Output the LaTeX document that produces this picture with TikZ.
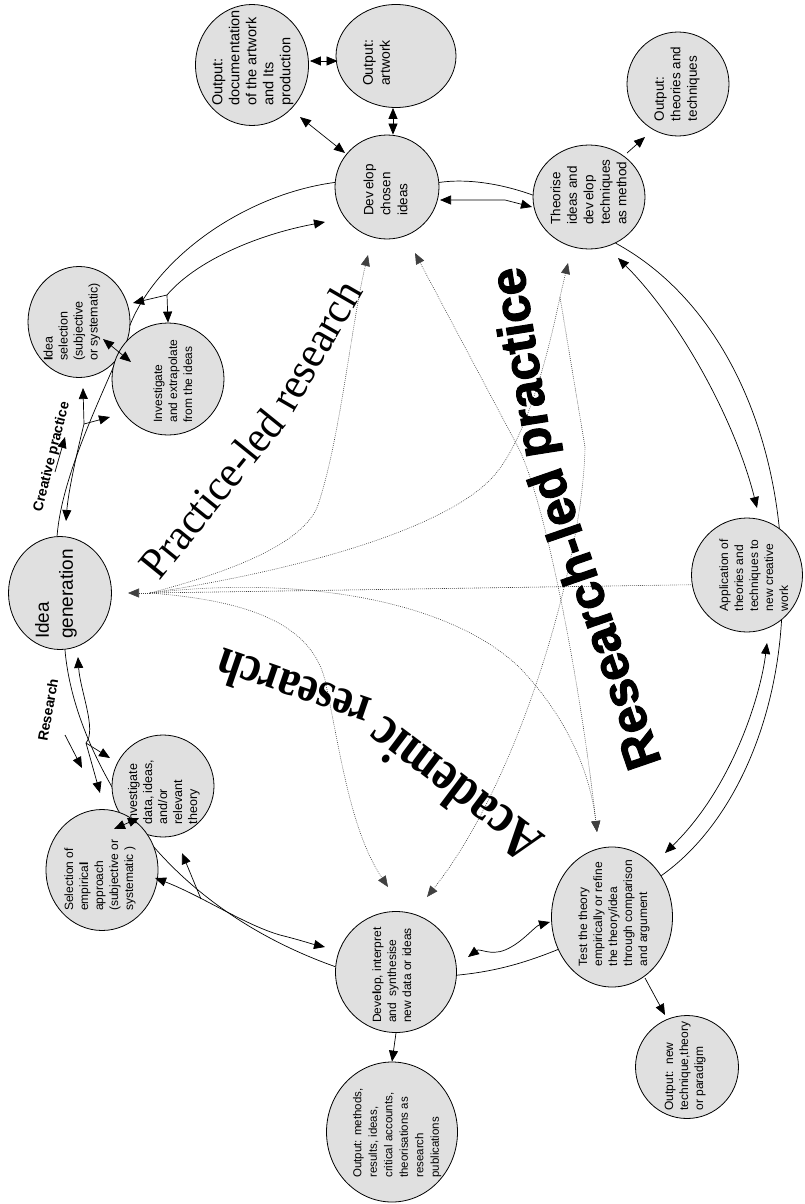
\documentclass[tikz,border=0pt]{standalone}
\usepackage{fontspec}
\setmainfont{Liberation Sans}
\newfontfamily\bigserif{Liberation Serif}
\newfontfamily\heavysans{Liberation Sans}[FakeBold=2]
\usetikzlibrary{shapes.geometric,arrows.meta,calc}
\definecolor{cfill}{RGB}{224,224,224}
\pgfdeclarelayer{bg}
\pgfsetlayers{bg,main}
\newcommand{\fsz}[2]{\fontsize{#1}{#2}\selectfont}
\newcommand{\vlines}[1]{\begin{tabular}{@{}l@{}}#1\end{tabular}}
\begin{document}
\begin{tikzpicture}[x=1pt,y=-1pt,
  circ/.style={ellipse, draw=black, line width=0.8pt, fill=cfill, inner sep=0pt},
  lbl/.style={rotate=90, inner sep=0pt},
  ln/.style={line width=0.7pt},
  Tri/.tip={Triangle[length=11pt,width=9pt]},
  arr/.style={ln, -Tri},
  darr/.style={ln, Tri-Tri},
  dots/.style={line width=0.6pt, draw=black!75, dash pattern=on 0.8pt off 1.2pt},
  bigtxt/.style={inner sep=0pt},
]
\useasboundingbox (0,0) rectangle (804,1204);

% ---------- circles ----------
\node[circ, minimum width=113pt, minimum height=121pt] (doc) at (252,65) {};
\node[circ, minimum width=120pt, minimum height=103pt] (art) at (396,56) {};
\node[circ, minimum width=104pt, minimum height=104pt] (dci) at (387,187) {};
\node[circ, minimum width=112pt, minimum height=104pt] (thr) at (589,197) {};
\node[circ, minimum width=102pt, minimum height=104pt] (oth) at (678,84) {};
\node[circ, minimum width=102pt, minimum height=111pt] (isel) at (79,322) {};
\node[circ, minimum width=112pt, minimum height=112pt] (inv1) at (168,379) {};
\node[circ, minimum width=103pt, minimum height=113pt] (igen) at (60,593) {};
\node[circ, minimum width=102pt, minimum height=102pt] (inv2) at (163,786) {};
\node[circ, minimum width=112pt, minimum height=121pt] (sel) at (102,870) {};
\node[circ, minimum width=121pt, minimum height=121pt] (dev2) at (396,972) {};
\node[circ, minimum width=131pt, minimum height=140pt] (omet) at (392,1132) {};
\node[circ, minimum width=121pt, minimum height=140pt] (test) at (612,917) {};
\node[circ, minimum width=103pt, minimum height=103pt] (onew) at (687,1067) {};
\node[circ, minimum width=111pt, minimum height=114pt] (app) at (747,575) {};

% ---------- circle texts ----------
\node[lbl, font=\fsz{14.5}{17}] (doct) at ($(doc)+(1,-7)$) {\vlines{Output:\\documentation\\of the artwork\\and Its\\production}};
\node[lbl, font=\fsz{14}{17}] (artt) at ($(art)+(-18,7)$) {\vlines{Output:\\artwork}};
\node[lbl, font=\fsz{13.5}{17}] (dcit) at ($(dci)+(0,3)$) {\vlines{Dev\kern2pt elop\\chosen\\ideas}};
\node[lbl, font=\fsz{13.5}{16.5}] (thrt) at ($(thr)+(1,-5)$) {\vlines{Theorise\\ideas and\\dev\kern2pt elop\\techniques\\as method}};
\node[lbl, font=\fsz{13.5}{16.5}] (otht) at ($(oth)+(-1,0)$) {\vlines{Output:\\theories and\\techniques}};
\node[lbl, font=\fsz{12.5}{15}] (iselt) at ($(isel)+(-7,0)$) {\vlines{\textbf{I}dea\\selection\\(subjective\\or systematic)}};
\node[lbl, font=\fsz{12}{15}] (inv1t) at ($(inv1)+(6,2)$) {\vlines{Investigate\\and extrapolate\\from the ideas}};
\node[lbl, font=\fsz{19}{24}] (igent) at ($(igen)+(-4,1)$) {\vlines{Idea\\generation}};
\node[lbl, font=\fsz{12.5}{15}] (inv2t) at ($(inv2)+(1,6)$) {\vlines{\textbf{I}nvestigate\\data, ideas,\\and/or\\relevant\\theory}};
\node[lbl, font=\fsz{12}{15}] (selt) at ($(sel)+(-2,5)$) {\vlines{Selection of\\empirica\textbf{l}\\approach\\(subjective or\\systematic )}};
\node[lbl, font=\fsz{12}{15}] (dev2t) at ($(dev2)+(-3,3)$) {\vlines{Deve\textbf{l}op, interpret\\and\ \ synthesise\\new data or ideas}};
\node[lbl, font=\fsz{11.5}{15.5}] (omett) at ($(omet)+(5,1)$) {\vlines{Output: methods,\\results, ideas,\\critical accounts,\\theorisations as\\research\\publications}};
\node[lbl, font=\fsz{12}{15}] (testt) at ($(test)+(2,-4)$) {\vlines{Test the theory\\empirically or refine\\the theory/idea\\through comparison\\and argument}};
\node[lbl, font=\fsz{12}{15}] (onewt) at ($(onew)+(-2,-1)$) {\vlines{Output:\ \ new\\technique,theory\\or paradigm}};
\node[lbl, font=\fsz{12}{15}] (appt) at ($(app)+(8,0)$) {\vlines{Application of\\theories and\\techniques to\\new creative\\work}};

% ---------- helper coordinates ----------
\coordinate (j0) at (167,295);
\coordinate (j1) at (84,424);
\coordinate (j2) at (201,899);
\coordinate (j3) at (86,743);
\coordinate (fan) at (150,593);
\coordinate (k4) at (560,297);
\coordinate (k6) at (518,447);
\coordinate (ca1) at (55,472);
\coordinate (ca2) at (65,437);
\coordinate (ra1) at (65,735);
\coordinate (ra2) at (82,768);

\begin{pgfonlayer}{bg}
% ring
\draw[ln] (igen.93) .. controls (62,475) and (100,400) .. (125,340) .. controls (145,265) and (240,195) .. (dci.175);
\draw[ln] (dci.5) .. controls (470,178) and (505,185) .. (thr.178);
\draw[ln] (thr.-60) .. controls (720,300) and (780,430) .. (782,575) .. controls (787,700) and (740,820) .. (test.40);
\draw[ln] (test.211) .. controls (520,965) and (490,972) .. (dev2.-3);
\draw[ln] (dev2.175) .. controls (260,940) and (190,895) .. (140,830) .. controls (100,775) and (70,710) .. (igen.-85);

% dotted links
\draw[dots, -Tri] (fan) -- ($(igen)+(68,0)$);
\draw[dots, -Tri] (fan) .. controls (245,568) and (305,540) .. (318,505) .. controls (340,440) and (352,320) .. ($(dci)+(-19,68)$);
\draw[dots, -Tri] (fan) .. controls (300,570) and (440,530) .. (490,480) .. controls (530,440) and (553,330) .. (k4) -- ($(thr)+(-21,66)$);
\draw[dots] (fan) -- (app.190);
\draw[dots, -Tri] (fan) .. controls (300,575) and (450,600) .. (520,668) .. controls (565,715) and (590,770) .. ($(test)+(-15,-85)$);
\draw[dots, -Tri] (fan) .. controls (240,600) and (310,620) .. (325,680) .. controls (340,750) and (350,830) .. ($(dev2)+(-8,-85)$);
\draw[dots, Tri-Tri] ($(dci)+(28,66)$) -- (k6) .. controls (545,500) and (580,680) .. ($(test)+(-15,-85)$);
\draw[dots, -Tri] (k4) -- (585,447) .. controls (583,560) and (520,780) .. ($(dev2)+(31,-75)$);
\end{pgfonlayer}

% ---------- arrows ----------
% top outputs
\draw[darr] ($(doc.east)+(1,-4)$) -- ($(art.west)+(2,5)$);
\draw[darr] ($(art.south)+(-3,0)$) -- ($(dci.north)+(6,0)$);
\draw[darr] ($(doc)+(48,52)$) -- ($(dci)+(-42,-34)$);
\draw[darr] ($(dci)+(53,13)$) -- ($(dci)+(118,13)$) -- ($(thr)+(-57,10)$);
\draw[arr] ($(thr)+(38,-44)$) -- ($(oth)+(-33,53)$);
% right side
\draw[darr] ($(thr)+(29,61)$) .. controls (680,320) and (735,420) .. ($(app)+(10,-67)$);
\draw[darr] ($(app)+(20,68)$) .. controls (760,700) and (730,790) .. ($(test)+(53,-64)$);
\draw[arr] ($(test)+(33,61)$) -- ($(onew)+(-22,-52)$);
% bottom
\draw[darr] ($(dev2)+(72,-15)$) .. controls (480,948) and (490,956) .. (505,950) .. controls (522,943) and (535,926) .. ($(test)+(-62,5)$);
\draw[arr] (dev2.south) -- (omet.north);
\draw[darr] ($(sel)+(53,8)$) .. controls (200,895) and (245,925) .. (280,935) .. controls (300,940) and (312,944) .. ($(dev2)+(-71,-25)$);
\draw[arr] (j2) -- ($(inv2)+(19,67)$);
\draw[darr] ($(sel)+(12,-41)$) -- ($(inv2)+(-24,32)$);
% research path
\draw[arr] (j3) .. controls (97,730) and (80,690) .. ($(igen)+(18,64)$);
\draw[arr] (j3) -- ($(inv2)+(-53,-28)$);
\draw[arr] (j3) -- ($(sel)+(-2,-77)$);
\draw[arr] (ra1) -- (ra2);
% practice path
\draw[arr] (j1) .. controls (75,460) and (68,495) .. ($(igen)+(6,-72)$);
\draw[arr] (j1) -- ($(isel)+(4,66)$);
\draw[arr] (j1) -- ($(inv1)+(-58,38)$);
\draw[arr] (j0) .. controls (195,262) and (255,235) .. ($(dci)+(-62,35)$);
\draw[arr] (j0) -- ($(isel)+(54,-19)$);
\draw[arr] (j0) -- (inv1.north);
\draw[darr] ($(isel)+(24,17)$) -- ($(inv1)+(-37,-17)$);
\draw[arr] (ca1) -- (ca2);

% ---------- big labels (slightly arched) ----------
\node[bigtxt, rotate=51, xscale=0.96, font=\bigserif\fsz{44}{44}] (plr1) at (211.5,493.6) {Practice-led};
\node[bigtxt, rotate=60, xscale=0.96, font=\bigserif\fsz{44}{44}] (plr2) at (315.4,345.1) {research};
\node[bigtxt, rotate=143, xscale=0.86, font=\bigserif\bfseries\fsz{56}{56}] (acr1) at (454,791) {Academic};
\node[bigtxt, rotate=161, xscale=0.86, font=\bigserif\bfseries\fsz{51}{51}] (acr2) at (293,690) {research};
\node[bigtxt, rotate=109, font=\heavysans\bfseries\fsz{50}{50}] (rlp1) at (593.8,619.5) {Research-led};
\node[bigtxt, rotate=99, font=\heavysans\bfseries\fsz{50}{50}] (rlp2) at (525.4,362.4) {practice};
\node[bigtxt, rotate=76, font=\bfseries\fsz{14}{14}] (crp) at (52,457) {Creative practice};
\node[bigtxt, rotate=80, font=\bfseries\fsz{14}{14}] (res) at (48,710) {Research};
\end{tikzpicture}
\end{document}
